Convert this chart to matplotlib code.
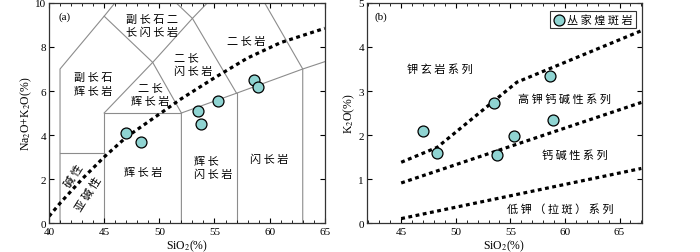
import numpy as np
import matplotlib
matplotlib.use("Agg")
import matplotlib.pyplot as plt
from matplotlib.ticker import MultipleLocator

plt.rcParams['font.family'] = ['Liberation Serif', 'Noto Sans CJK SC']
plt.rcParams['mathtext.fontset'] = 'stix'

CN = 'Noto Sans CJK SC'

# sample data (SiO2, Na2O+K2O, K2O)
sio2 = [47.0, 48.3, 53.5, 53.8, 55.3, 58.6, 58.9]
alk = [4.1, 3.7, 5.1, 4.5, 5.55, 6.5, 6.2]
k2o = [2.08, 1.58, 2.72, 1.54, 1.98, 3.34, 2.35]

# TAS field boundaries (plutonic)
tas_lines = [
    [(41, 0), (41, 7), (45, 9.4), (48.4, 11.5)],
    [(45, 9.4), (49.4, 7.3), (52, 5)],
    [(45, 0), (45, 5), (52, 5)],
    [(45, 5), (49.4, 7.3), (53, 9.3), (57.6, 11.7)],
    [(48.4, 11.5), (53, 9.3), (57, 5.9)],
    [(52, 0), (52, 5), (57, 5.9), (63, 7), (69, 8)],
    [(57, 0), (57, 5.9)],
    [(63, 0), (63, 7), (57.6, 11.7)],
    [(41, 3.2), (45, 3.2)],
]

# field names: (x, y, lines, alignment)
fields = [
    (49.3, 8.97, ['副长石二', '长闪长岩'], 'center'),
    (57.9, 8.29, ['二长岩'], 'center'),
    (51.3, 7.23, ['二长', '闪长岩'], 'left'),
    (44.0, 6.32, ['副长石', '辉长岩'], 'center'),
    (49.15, 5.86, ['二长', '辉长岩'], 'center'),
    (48.55, 2.3, ['辉长岩'], 'center'),
    (53.1, 2.53, ['辉长', '闪长岩'], 'left'),
    (60.0, 2.94, ['闪长岩'], 'center'),
]

# alkaline / subalkaline divide
div_x = [40, 41, 43, 45, 47, 50, 52, 55, 58, 61, 65]
div_y = [0.3, 0.9, 2.0, 3.0, 3.9, 4.95, 5.65, 6.6, 7.5, 8.2, 8.85]

# K2O-SiO2 series boundaries
shos_x = [45, 48.3, 55.6, 67]
shos_y = [1.38, 1.72, 3.2, 4.37]
hk_x = [45, 67]
hk_y = [0.91, 2.74]
lk_x = [45, 67]
lk_y = [0.1, 1.24]

face = '#8fd4d2'
dot = dict(color='black', lw=2.3, linestyle=(0, (1.2, 1.1)))


def sp(s):
    # loose letter spacing like the original figure
    return ' '.join(s)


fig = plt.figure(figsize=(7, 2.53), dpi=100)
ax1 = fig.add_axes([0.07, 0.1146, 0.394, 0.8696])
ax2 = fig.add_axes([0.524, 0.1146, 0.393, 0.8696])

for seg in tas_lines:
    xs, ys = zip(*seg)
    ax1.plot(xs, ys, color='#8c8c8c', lw=0.8, zorder=1)
ax1.plot(div_x, div_y, **dot, zorder=2)
ax1.scatter(sio2, alk, s=62, facecolor=face, edgecolor='black', lw=0.9, zorder=3)

ax1.set_xlim(40, 65)
ax1.set_ylim(0, 10)
ax1.set_xlabel('SiO$_2$(%)', fontsize=8.5, labelpad=1)
ax1.set_ylabel('Na$_2$O+K$_2$O(%)', fontsize=8.5, labelpad=1)

fs = 8
kw = dict(fontsize=fs, family=CN, va='center')
step = 0.6
for x, y, lines, ha in fields:
    y0 = y + step * (len(lines) - 1) / 2
    for i, ln in enumerate(lines):
        ax1.text(x, y0 - i * step, sp(ln), ha=ha, **kw)
ax1.text(42.27, 2.15, sp('碱性'), ha='center', rotation=58, **kw)
ax1.text(43.56, 1.32, sp('亚碱性'), ha='center', rotation=58, **kw)
ax1.text(41.45, 9.42, '(a)', fontsize=8, ha='center', va='center')

ax2.plot(shos_x, shos_y, **dot)
ax2.plot(hk_x, hk_y, **dot)
ax2.plot(lk_x, lk_y, **dot)
ax2.scatter(sio2, k2o, s=62, facecolor=face, edgecolor='black', lw=0.9, zorder=3,
            label=sp('丛家煌斑岩'))

ax2.set_xlim(41.85, 67.05)
ax2.set_ylim(0, 5)
ax2.set_xlabel('SiO$_2$(%)', fontsize=8.5, labelpad=1)
ax2.set_ylabel('K$_2$O(%)', fontsize=8.5, labelpad=1)

ax2.text(48.57, 3.52, sp('钾玄岩系列'), ha='center', **kw)
ax2.text(60.0, 2.82, sp('高钾钙碱性系列'), ha='center', **kw)
ax2.text(60.94, 1.55, sp('钙碱性系列'), ha='center', **kw)
ax2.text(59.57, 0.34, sp('低钾（拉斑）系列'), ha='center', **kw)
ax2.text(43.14, 4.7, '(b)', fontsize=8, ha='center', va='center')

leg = ax2.legend(loc='upper right', bbox_to_anchor=(0.985, 0.975), prop={'family': CN, 'size': 8},
                 frameon=True, fancybox=False, handletextpad=0.2, borderpad=0.3,
                 handlelength=1.0, borderaxespad=0.2)
leg.get_frame().set_edgecolor('black')
leg.get_frame().set_linewidth(0.8)

for ax in (ax1, ax2):
    ax.xaxis.set_major_locator(MultipleLocator(5))
    ax.xaxis.set_minor_locator(MultipleLocator(1))
    ax.tick_params(which='both', direction='in', top=True, right=True, labelsize=8, pad=2)
    ax.tick_params(axis='x', which='major', pad=3)
    ax.tick_params(which='major', length=3.5, width=0.8)
    ax.tick_params(which='minor', length=2, width=0.6)
    for s in ax.spines.values():
        s.set_linewidth(0.9)
        s.set_color('#333333')

ax1.yaxis.set_major_locator(MultipleLocator(2))
ax2.yaxis.set_major_locator(MultipleLocator(1))

fig.savefig('out.png', dpi=100)
